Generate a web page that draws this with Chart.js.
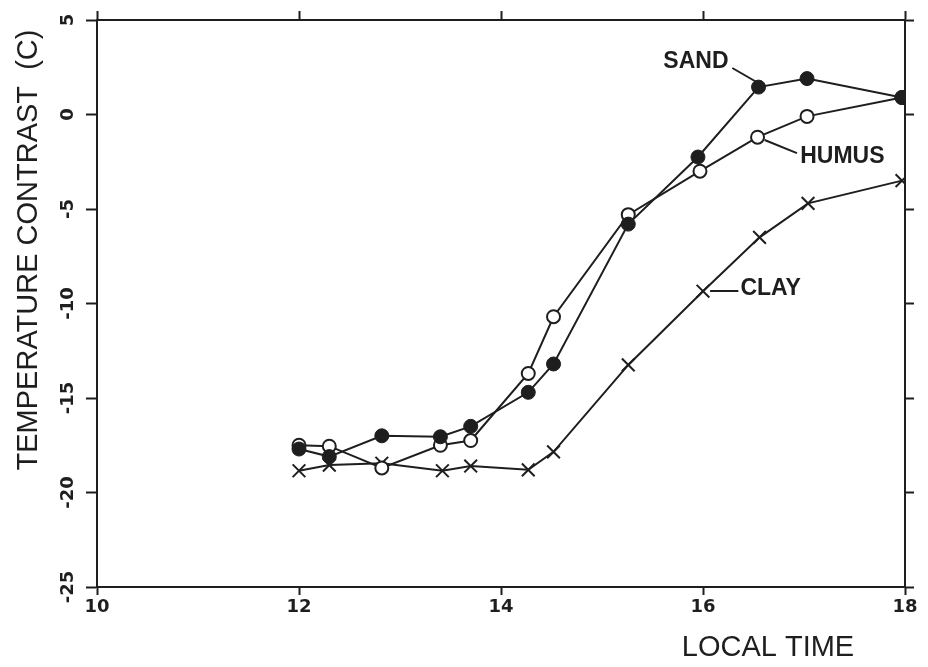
<!DOCTYPE html>
<html>
<head>
<meta charset="utf-8">
<script src="https://cdn.jsdelivr.net/npm/chart.js@4.4.0/dist/chart.umd.min.js"></script>
<style>
  html, body { margin: 0; padding: 0; background: #fff; }
  #wrap { width: 928px; height: 667px; }
</style>
</head>
<body>
<div id="wrap"><canvas id="soilChart"></canvas></div>
<script>
// local time (hours) of each measurement
const sandTime  = [12.0, 12.3, 12.82, 13.4, 13.7, 14.27, 14.52, 15.26, 15.95, 16.55, 17.03, 17.97];
const humusTime = [12.0, 12.3, 12.82, 13.4, 13.7, 14.27, 14.52, 15.26, 15.97, 16.54, 17.03, 17.97];
const clayTime  = [12.0, 12.3, 12.82, 13.42, 13.7, 14.27, 14.52, 15.26, 16.0, 16.56, 17.04, 17.97];

// temperature contrast (C)
const sandTemp  = [-17.7, -18.1, -17.0, -17.05, -16.5, -14.7, -13.2, -5.8, -2.25, 1.45, 1.9, 0.9];
const humusTemp = [-17.5, -17.55, -18.7, -17.5, -17.25, -13.7, -10.7, -5.3, -3.0, -1.2, -0.1, 0.9];
const clayTemp  = [-18.85, -18.55, -18.45, -18.85, -18.6, -18.8, -17.85, -13.25, -9.35, -6.5, -4.7, -3.5];

const xTicks = [10, 12, 14, 16, 18];
const yTicks = [-25, -20, -15, -10, -5, 0, 5];

// labels with leader lines, in data units
const labels = [
  { text: 'SAND',  at: [15.93, 2.78],  line: [[16.29, 2.46], [16.53, 1.72]] },
  { text: 'HUMUS', at: [17.38, -2.25], line: [[16.61, -1.35], [16.93, -2.04]] },
  { text: 'CLAY',  at: [16.67, -9.23], line: [[16.07, -9.34], [16.35, -9.34]] }
];

const ink = '#1e1e1e';

function pts(xs, ys) {
  return xs.map((x, i) => ({ x: x, y: ys[i] }));
}

const annotate = {
  id: 'annotate',
  afterDatasetsDraw(chart) {
    const ctx = chart.ctx;
    const sx = chart.scales.x, sy = chart.scales.y;
    ctx.save();
    ctx.fillStyle = ink;
    ctx.strokeStyle = ink;
    ctx.lineWidth = 2;
    ctx.font = 'bold 23px "Liberation Sans", Arial, sans-serif';
    ctx.textAlign = 'center';
    ctx.textBaseline = 'middle';
    labels.forEach(l => {
      ctx.fillText(l.text, sx.getPixelForValue(l.at[0]), sy.getPixelForValue(l.at[1]));
      ctx.beginPath();
      ctx.moveTo(sx.getPixelForValue(l.line[0][0]), sy.getPixelForValue(l.line[0][1]));
      ctx.lineTo(sx.getPixelForValue(l.line[1][0]), sy.getPixelForValue(l.line[1][1]));
      ctx.stroke();
    });
    // axis titles
    ctx.font = '29px "Liberation Sans", Arial, sans-serif';
    ctx.fillText('LOCAL TIME', 768, 648);
    ctx.translate(29, 250);
    ctx.rotate(-Math.PI / 2);
    ctx.fillText('TEMPERATURE CONTRAST  (C)', 0, 0);
    ctx.restore();
  }
};

const tickFont = { family: '"DejaVu Sans", sans-serif', size: 18, weight: 'bold' };

function edgeGrid(len) {
  return { drawOnChartArea: false, drawTicks: true, tickLength: len, tickColor: ink, tickWidth: 2 };
}

const ctx = document.getElementById('soilChart').getContext('2d');

const chart = new Chart(ctx, {
  type: 'line',
  data: {
    datasets: [
      {
        label: 'SAND',
        data: pts(sandTime, sandTemp),
        borderColor: ink,
        borderWidth: 2,
        pointStyle: 'circle',
        pointRadius: 7,
        pointBackgroundColor: ink,
        pointBorderColor: ink,
        pointBorderWidth: 1,
        tension: 0
      },
      {
        label: 'HUMUS',
        data: pts(humusTime, humusTemp),
        borderColor: ink,
        borderWidth: 2,
        pointStyle: 'circle',
        pointRadius: 6.5,
        pointBackgroundColor: '#fff',
        pointBorderColor: ink,
        pointBorderWidth: 2,
        tension: 0
      },
      {
        label: 'CLAY',
        data: pts(clayTime, clayTemp),
        borderColor: ink,
        borderWidth: 2,
        pointStyle: 'crossRot',
        pointRadius: 9,
        pointBorderColor: ink,
        pointBorderWidth: 2,
        tension: 0
      }
    ]
  },
  options: {
    responsive: true,
    maintainAspectRatio: false,
    animation: false,
    layout: { padding: 0 },
    plugins: {
      legend: { display: false },
      tooltip: { enabled: false }
    },
    scales: {
      x: {
        type: 'linear',
        position: 'bottom',
        min: 10,
        max: 18,
        afterBuildTicks: s => { s.ticks = xTicks.map(v => ({ value: v })); },
        afterFit: s => { s.height = 80; },
        ticks: { color: ink, font: tickFont, padding: 2, maxRotation: 0 },
        grid: edgeGrid(8),
        border: { color: ink, width: 2 }
      },
      xTop: {
        type: 'linear',
        position: 'top',
        min: 10,
        max: 18,
        afterBuildTicks: s => { s.ticks = xTicks.map(v => ({ value: v })); },
        afterFit: s => { s.height = 20; },
        ticks: { display: false },
        grid: edgeGrid(9),
        border: { color: ink, width: 2 }
      },
      y: {
        type: 'linear',
        position: 'left',
        min: -25,
        max: 5,
        afterBuildTicks: s => { s.ticks = yTicks.map(v => ({ value: v })); },
        afterFit: s => { s.width = 97; },
        ticks: { color: ink, font: tickFont, padding: 1, minRotation: 90, maxRotation: 90, crossAlign: 'center' },
        grid: edgeGrid(11),
        border: { color: ink, width: 2 }
      },
      yRight: {
        type: 'linear',
        position: 'right',
        min: -25,
        max: 5,
        afterBuildTicks: s => { s.ticks = yTicks.map(v => ({ value: v })); },
        afterFit: s => { s.width = 23; },
        ticks: { display: false },
        grid: edgeGrid(9),
        border: { color: ink, width: 2 }
      }
    }
  },
  plugins: [annotate]
});
</script>
</body>
</html>
